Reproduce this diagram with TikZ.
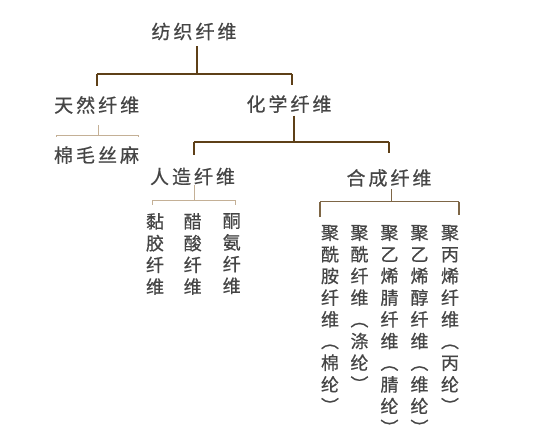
\documentclass[tikz,border=0pt]{standalone}
\usepackage{fontspec}
\newfontfamily\cjk[FakeBold=0.6]{Noto Sans CJK SC}
\definecolor{txt}{HTML}{454545}
\definecolor{brn}{HTML}{5E4018}
\definecolor{tan}{HTML}{C4B096}
\newcommand\cjkgap{\hspace{3pt}}
\tikzset{
  lbl/.style={font=\cjk\fontsize{19}{19}\selectfont, text=txt, inner sep=0pt},
  vcol/.style={font=\cjk\fontsize{18}{21.7}\selectfont, text=txt, inner sep=0pt, align=center, anchor=north},
  dk/.style={draw=brn, line width=1.4pt},
  lt/.style={draw=tan, line width=1pt},
}
\begin{document}
\begin{tikzpicture}[x=1pt,y=-1pt]
\useasboundingbox (0,0) rectangle (542,448);
\fill[white] (0,0) rectangle (542,448);

% labels
\node[lbl] (root) at (194,31.5) {纺\cjkgap 织\cjkgap 纤\cjkgap 维};
\node[lbl] (tr) at (96.7,105) {天\cjkgap 然\cjkgap 纤\cjkgap 维};
\node[lbl] (hx) at (289,104) {化\cjkgap 学\cjkgap 纤\cjkgap 维};
\node[lbl] (mm) at (96.5,155) {棉\cjkgap 毛\cjkgap 丝\cjkgap 麻};
\node[lbl] (rz) at (192.5,176.5) {人\cjkgap 造\cjkgap 纤\cjkgap 维};
\node[lbl] (hc) at (389,178) {合\cjkgap 成\cjkgap 纤\cjkgap 维};

% vertical columns
\node[vcol] (v1) at (155,213) {黏\\胶\\纤\\维};
\node[vcol] (v2) at (192.7,213) {醋\\酸\\纤\\维};
\node[vcol] (v3) at (231.7,213) {酮\\氨\\纤\\维};

\node[vcol] (s1) at (330,224.8) {聚\\酰\\胺\\纤\\维\\︵\\棉\\纶\\︶};
\node[vcol] (s2) at (359.5,224.8) {聚\\酰\\纤\\维\\︵\\涤\\纶\\︶};
\node[vcol] (s3) at (389.5,224.8) {聚\\乙\\烯\\腈\\纤\\维\\︵\\腈\\纶\\︶};
\node[vcol] (s4) at (419.5,224.8) {聚\\乙\\烯\\醇\\纤\\维\\︵\\维\\纶\\︶};
\node[vcol] (s5) at (450,224.8) {聚\\丙\\烯\\纤\\维\\︵\\丙\\纶\\︶};

% level 0 connector
\coordinate (j0) at (197,74);
\coordinate (j0L) at (97,74);
\coordinate (j0R) at (292,74);
\draw[dk, shorten <=6pt] (root.south -| j0) -- (j0);
\draw[dk] (j0L) -- (j0R);
\draw[dk, shorten >=10pt] (j0L) -- (j0L |- tr.north);
\draw[dk, shorten >=10pt] (j0R) -- (j0R |- hx.north);

% 天然 bracket
\coordinate (j1) at (98.7,135);
\coordinate (j1L) at (56,135);
\coordinate (j1R) at (138.7,135);
\draw[lt, shorten <=11pt] (tr.south -| j1) -- (j1);
\draw[lt] (j1L) -- (j1R);
\draw[lt, shorten >=9pt] (j1L) -- (j1L |- mm.north);
\draw[lt, shorten >=9pt] (j1R) -- (j1R |- mm.north);

% 化学 connector
\coordinate (j2) at (294,142);
\coordinate (j2L) at (194,142);
\coordinate (j2R) at (389,142);
\draw[dk, shorten <=2.5pt] (hx.south -| j2) -- (j2);
\draw[dk] (j2L) -- (j2R);
\draw[dk, shorten >=13pt] (j2L) -- (j2L |- rz.north);
\draw[dk, shorten >=16pt] (j2R) -- (j2R |- hc.north);

% 人造 bracket
\coordinate (j3) at (194,200);
\coordinate (j3L) at (152.7,200);
\coordinate (j3R) at (235,200);
\draw[lt] (rz.south -| j3) -- (j3);
\draw[lt] (j3L) -- (j3R);
\draw[lt, shorten >=8pt] (j3L) -- (j3L |- v1.north);
\draw[lt, shorten >=8pt] (j3R) -- (j3R |- v3.north);

% 合成 bracket
\coordinate (j4) at (391.7,201.7);
\coordinate (j4L) at (320,201.7);
\coordinate (j4R) at (459,201.7);
\draw[dk, draw=brn!80, shorten <=2pt] (hc.south -| j4) -- (j4);
\draw[dk, draw=brn!80] (j4L) -- (j4R);
\draw[dk, draw=brn!80, shorten >=8pt] (j4L) -- (j4L |- s1.north);
\draw[dk, draw=brn!80, shorten >=10pt] (j4R) -- (j4R |- s5.north);
\end{tikzpicture}
\end{document}
